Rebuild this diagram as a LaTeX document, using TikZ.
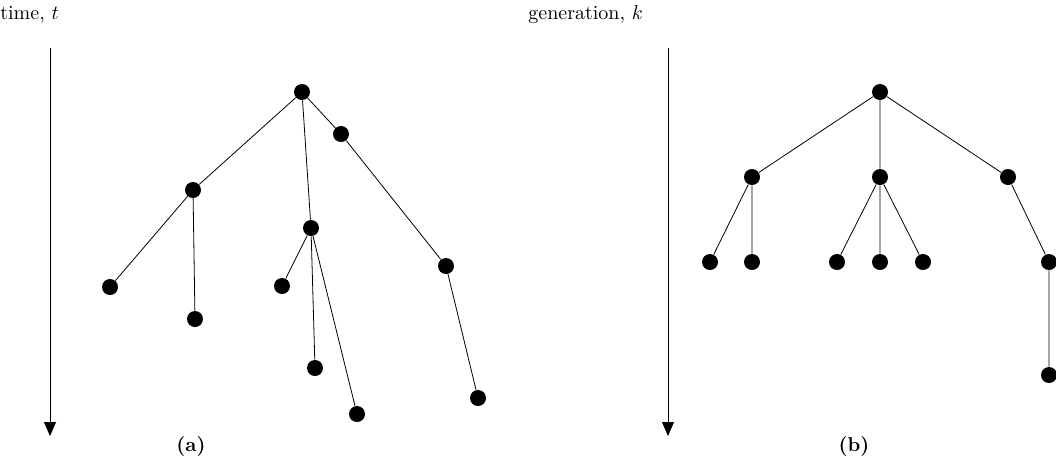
\documentclass[tikz,border=0pt]{standalone}
\usetikzlibrary{arrows.meta}
\begin{document}
\begin{tikzpicture}[x=0.5pt,y=-0.5pt,
  dot/.style={circle,fill=black,draw=none,inner sep=0pt,minimum size=8pt},
  edge/.style={draw=black,line width=0.4pt},
  axis/.style={draw=black,line width=0.4pt,-{Triangle[length=7pt,width=6pt]}},
  lbl/.style={inner sep=0pt,font=\normalsize}]
\useasboundingbox (0,0) rectangle (1056,473);
% axes
\coordinate (a0) at (50,48);
\coordinate (a1) at (50,436);
\draw[axis] (a0) -- (a1);
\coordinate (b0) at (668,48);
\coordinate (b1) at (668,436);
\draw[axis] (b0) -- (b1);
\node[lbl,anchor=base west] (tlab) at (0,19) {time, $t$};
\node[lbl,anchor=base west] (glab) at (528,19) {generation, $k$};
\node[lbl,anchor=base] (capa) at (191,451) {\textbf{(a)}};
\node[lbl,anchor=base] (capb) at (854,451) {\textbf{(b)}};
% tree (a)
\node[dot] (r) at (302,92) {};
\node[dot] (n1) at (193,190) {};
\node[dot] (n2) at (311,228) {};
\node[dot] (n3) at (341,134) {};
\node[dot] (n11) at (110,287) {};
\node[dot] (n12) at (195,319) {};
\node[dot] (n21) at (282,286) {};
\node[dot] (n22) at (315,368) {};
\node[dot] (n23) at (357,414) {};
\node[dot] (n31) at (446,266) {};
\node[dot] (n311) at (478,398) {};
\draw[edge] (r) -- (n1) (r) -- (n2) (r) -- (n3)
  (n1) -- (n11) (n1) -- (n12)
  (n2) -- (n21) (n2) -- (n22) (n2) -- (n23)
  (n3) -- (n31) (n31) -- (n311);
% tree (b)
\node[dot] (R) at (880,92) {};
\node[dot] (m1) at (752,177) {};
\node[dot] (m2) at (880,177) {};
\node[dot] (m3) at (1008,177) {};
\node[dot] (m11) at (710,262) {};
\node[dot] (m12) at (752,262) {};
\node[dot] (m21) at (837,262) {};
\node[dot] (m22) at (880,262) {};
\node[dot] (m23) at (923,262) {};
\node[dot] (m31) at (1049,262) {};
\node[dot] (m311) at (1049,375) {};
\draw[edge] (R) -- (m1) (R) -- (m2) (R) -- (m3)
  (m1) -- (m11) (m1) -- (m12)
  (m2) -- (m21) (m2) -- (m22) (m2) -- (m23)
  (m3) -- (m31) (m31) -- (m311);
\end{tikzpicture}
\end{document}
